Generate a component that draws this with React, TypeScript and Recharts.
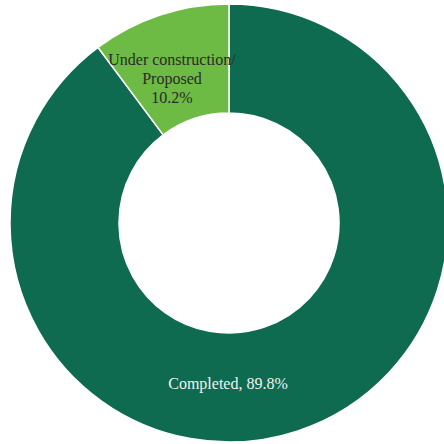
import { PieChart, Pie, Cell } from "recharts"

const categories = ["Completed", "Under construction/\nProposed"]
const shares = [89.8, 10.2]
const colors = ["#0f6b4f", "#6dba45"]

const data = categories.map((name, i) => ({ name, value: shares[i] }))

const serif = "Liberation Serif"

const renderLabel = (props: any) => {
  const { cx, cy, index } = props
  const pct = `${shares[index].toFixed(1)}%`

  if (index === 0) {
    return (
      <text x={cx - 1} y={cy + 166} textAnchor="middle" fill="#f2f2f2" fontFamily={serif} fontSize={16}>
        {`${categories[0]}, ${pct}`}
      </text>
    )
  }

  const lines = [...categories[1].split("\n"), pct]
  return (
    <text x={cx - 57} y={cy - 158} textAnchor="middle" fill="#2a2a2a" fontFamily={serif} fontSize={16}>
      {lines.map((line, i) => (
        <tspan key={i} x={cx - 57} dy={i === 0 ? 0 : 19}>
          {line}
        </tspan>
      ))}
    </text>
  )
}

export default function App() {
  return (
    <div style={{ position: "absolute", left: 0, top: 0, width: 444, height: 444 }}>
      <PieChart width={444} height={444} margin={{ top: 0, right: 0, bottom: 0, left: 0 }}>
        <Pie
          data={data}
          dataKey="value"
          nameKey="name"
          cx={229}
          cy={223}
          innerRadius={110}
          outerRadius={219}
          startAngle={90}
          endAngle={-270}
          stroke="#ffffff"
          strokeWidth={1.5}
          label={renderLabel}
          labelLine={false}
          isAnimationActive={false}
        >
          {data.map((d, i) => (
            <Cell key={d.name} fill={colors[i]} />
          ))}
        </Pie>
      </PieChart>
    </div>
  )
}
